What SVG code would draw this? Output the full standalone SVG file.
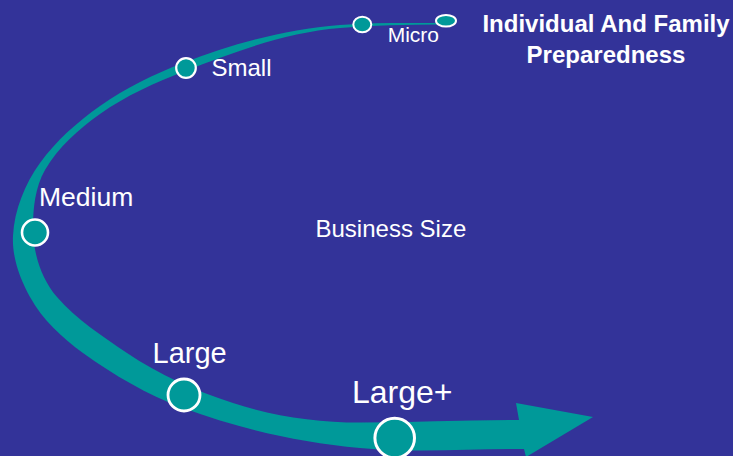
<svg xmlns="http://www.w3.org/2000/svg" width="733" height="456" viewBox="0 0 733 456">
<style>
.bg{fill:#333399}
.band{fill:#009999}
.dot{fill:#009999;stroke:#ffffff}
.lbl{fill:#ffffff;font-family:"Liberation Sans",Arial,sans-serif}
.ttl{fill:#ffffff;font-family:"Liberation Sans",Arial,sans-serif;font-weight:bold;font-size:24px;text-anchor:middle}
</style>
<rect class="bg" x="0" y="0" width="733" height="456"/>
<g id="connectors">
<path id="growth-arrow" class="band" d="M440 23 C407 23 372.9 22.4 340 25 C286.4 29.3 233.1 43.5 183 63 C153.9 74.3 125.4 87.9 100 106 C77.5 122 56.1 140.6 40 163 C24.9 184 14.3 210.1 13 236 C11.9 257.1 19.8 278.5 30 297 C42.4 319.5 62.2 338 83 353 C113.8 375.2 147.4 394.8 183 408 C239.7 429 299.7 442.4 360 448 C414.5 453.1 469.3 449 524 449 L526 457 L593 417 L516 403 L519 420 C466 420 413 422.5 360 422.5 C317.2 422.5 273.7 416.2 233 403 C195.9 391 159.3 374.8 127 353 C102.2 336.3 76.7 319.5 57 297 C41 278.7 33 252.3 33 228 C33 208.3 35.2 187.1 45 170 C58.1 147.3 78.6 129.2 100 114 C125.9 95.6 155.4 82.5 185 71 C235 51.5 286.6 32.3 340 28 C373.2 25.3 406.7 24.5 440 24.5 Z"/>
</g>
<g id="node-individual">
<ellipse class="dot" cx="446" cy="20.7" rx="10" ry="5.8" stroke-width="2"/>
<text class="ttl" x="606" y="31.5">Individual And Family</text>
<text class="ttl" x="606" y="63">Preparedness</text>
</g>
<g id="node-micro">
<ellipse class="dot" cx="362.3" cy="24.5" rx="9" ry="7.8" stroke-width="2"/>
<text class="lbl" x="387.7" y="41.7" font-size="21">Micro</text>
</g>
<g id="node-small">
<circle class="dot" cx="186" cy="68" r="9.8" stroke-width="2.2"/>
<text class="lbl" x="211.5" y="76" font-size="24">Small</text>
</g>
<g id="node-medium">
<circle class="dot" cx="35" cy="232.5" r="13" stroke-width="2.6"/>
<text class="lbl" x="39" y="206" font-size="26.5">Medium</text>
</g>
<g id="node-business-size">
<text class="lbl" x="315.5" y="237.3" font-size="24">Business Size</text>
</g>
<g id="node-large">
<circle class="dot" cx="184" cy="395" r="16" stroke-width="2.8"/>
<text class="lbl" x="152.5" y="363.3" font-size="29">Large</text>
</g>
<g id="node-large-plus">
<circle class="dot" cx="394.7" cy="438" r="19.8" stroke-width="3"/>
<text class="lbl" x="352" y="402.7" font-size="32">Large+</text>
</g>
</svg>
